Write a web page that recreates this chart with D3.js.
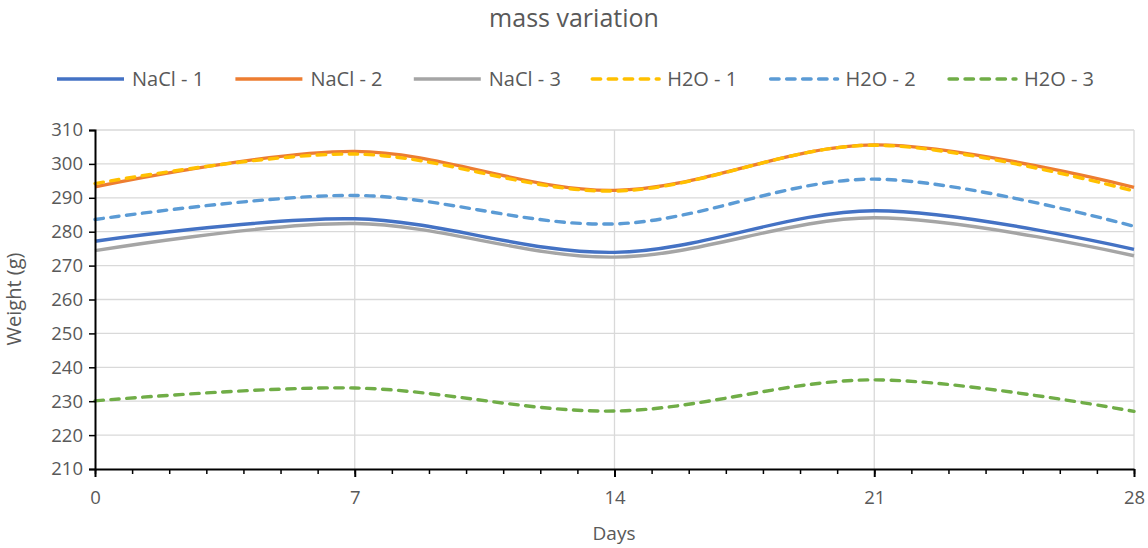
<!DOCTYPE html>
<html>
<head>
<meta charset="utf-8">
<script src="https://cdn.jsdelivr.net/npm/d3@7"></script>
<style>
  html, body { margin: 0; padding: 0; background: #fff; }
  svg { display: block; font-family: "Open Sans", "Noto Sans", sans-serif; }
</style>
</head>
<body>
<svg id="chart" width="1148" height="548"></svg>
<script>
// Measurement days
const days = [0, 7, 14, 21, 28];

// Weight (g) per sample on each day
const nacl1 = [277.2, 283.8, 273.9, 286.2, 274.8];
const nacl2 = [293.2, 303.7, 292.2, 305.6, 293.1];
const nacl3 = [274.4, 282.4, 272.5, 284.1, 272.9];
const h2o1  = [294.2, 302.9, 292.0, 305.5, 292.0];
const h2o2  = [283.6, 290.7, 282.3, 295.5, 281.6];
const h2o3  = [230.1, 233.9, 227.1, 236.3, 227.0];

const seriesNames = ["NaCl - 1", "NaCl - 2", "NaCl - 3", "H2O - 1", "H2O - 2", "H2O - 3"];
const seriesValues = [nacl1, nacl2, nacl3, h2o1, h2o2, h2o3];
const seriesColors = ["#4472C4", "#ED7D31", "#A5A5A5", "#FFC000", "#5B9BD5", "#70AD47"];
const seriesDashed = [false, false, false, true, true, true];

const yTicks = [210, 220, 230, 240, 250, 260, 270, 280, 290, 300, 310];
const xTicks = [0, 7, 14, 21, 28];

const svg = d3.select("#chart");
const textColor = "#595959";

const plot = { left: 95, right: 1134, top: 130, bottom: 469 };

const x = d3.scaleLinear().domain([0, 28]).range([plot.left, plot.right]);
const y = d3.scaleLinear().domain([210, 310]).range([plot.bottom, plot.top]);

// Title
svg.append("text")
  .attr("x", 574).attr("y", 27)
  .attr("text-anchor", "middle")
  .attr("font-size", 25)
  .attr("fill", textColor)
  .text("mass variation");

// Gridlines
const grid = svg.append("g");
grid.selectAll("line.h")
  .data(yTicks.filter(v => v > 210))
  .join("line")
  .attr("x1", plot.left).attr("x2", plot.right)
  .attr("y1", d => y(d)).attr("y2", d => y(d))
  .attr("stroke", "#d9d9d9").attr("stroke-width", 1.3);
grid.selectAll("line.v")
  .data(xTicks.filter(v => v > 0))
  .join("line")
  .attr("x1", d => x(d)).attr("x2", d => x(d))
  .attr("y1", plot.top).attr("y2", plot.bottom)
  .attr("stroke", "#d9d9d9").attr("stroke-width", 1.3);

// Series lines (smoothed)
const line = d3.line()
  .x((d, i) => x(days[i]))
  .y(d => y(d))
  .curve(d3.curveCardinal.tension(0));

const lines = svg.append("g");
seriesValues.forEach((vals, i) => {
  lines.append("path")
    .attr("d", line(vals))
    .attr("fill", "none")
    .attr("stroke", seriesColors[i])
    .attr("stroke-width", 3.4)
    .attr("stroke-linecap", seriesDashed[i] ? "round" : "butt")
    .attr("stroke-dasharray", seriesDashed[i] ? "8.5 7.5" : null);
});

// Y axis
const yAxis = svg.append("g")
  .attr("transform", `translate(${plot.left},0)`)
  .call(d3.axisLeft(y).tickValues(yTicks).tickSize(6).tickPadding(6));
yAxis.select(".domain").attr("stroke", "#000").attr("stroke-width", 2);
yAxis.selectAll(".tick line").attr("stroke", "#000").attr("stroke-width", 1.5);
yAxis.selectAll(".tick text")
  .attr("font-size", 18.5).attr("fill", textColor)
  .attr("font-family", "\"Open Sans\", sans-serif");

// X axis: minor ticks every day, labelled major ticks every week
const xMinor = svg.append("g")
  .attr("transform", `translate(0,${plot.bottom})`)
  .call(d3.axisBottom(x).tickValues(d3.range(0, 29)).tickSize(5).tickFormat(""));
xMinor.select(".domain").remove();
xMinor.selectAll(".tick line").attr("stroke", "#000").attr("stroke-width", 1.5);

const xAxis = svg.append("g")
  .attr("transform", `translate(0,${plot.bottom})`)
  .call(d3.axisBottom(x).tickValues(xTicks).tickSize(8).tickPadding(14).tickSizeOuter(0));
xAxis.select(".domain").attr("stroke", "#000").attr("stroke-width", 2);
xAxis.selectAll(".tick line").attr("stroke", "#000").attr("stroke-width", 2);
xAxis.selectAll(".tick text")
  .attr("font-size", 18.5).attr("fill", textColor)
  .attr("font-family", "\"Open Sans\", sans-serif");

// Axis titles
svg.append("text")
  .attr("x", 614).attr("y", 540)
  .attr("text-anchor", "middle")
  .attr("font-size", 19).attr("fill", textColor)
  .text("Days");
svg.append("text")
  .attr("transform", `translate(21,299) rotate(-90)`)
  .attr("text-anchor", "middle")
  .attr("font-size", 20).attr("fill", textColor)
  .text("Weight (g)");

// Legend
const legend = svg.append("g");
seriesNames.forEach((name, i) => {
  const x0 = 57 + i * 178.4;
  legend.append("line")
    .attr("x1", x0).attr("x2", x0 + 67)
    .attr("y1", 79).attr("y2", 79)
    .attr("stroke", seriesColors[i])
    .attr("stroke-width", 3.4)
    .attr("stroke-linecap", seriesDashed[i] ? "round" : "butt")
    .attr("stroke-dasharray", seriesDashed[i] ? "8.5 7.5" : null);
  legend.append("text")
    .attr("x", x0 + 75).attr("y", 86)
    .attr("font-size", 20).attr("fill", textColor)
    .text(name);
});
</script>
</body>
</html>
